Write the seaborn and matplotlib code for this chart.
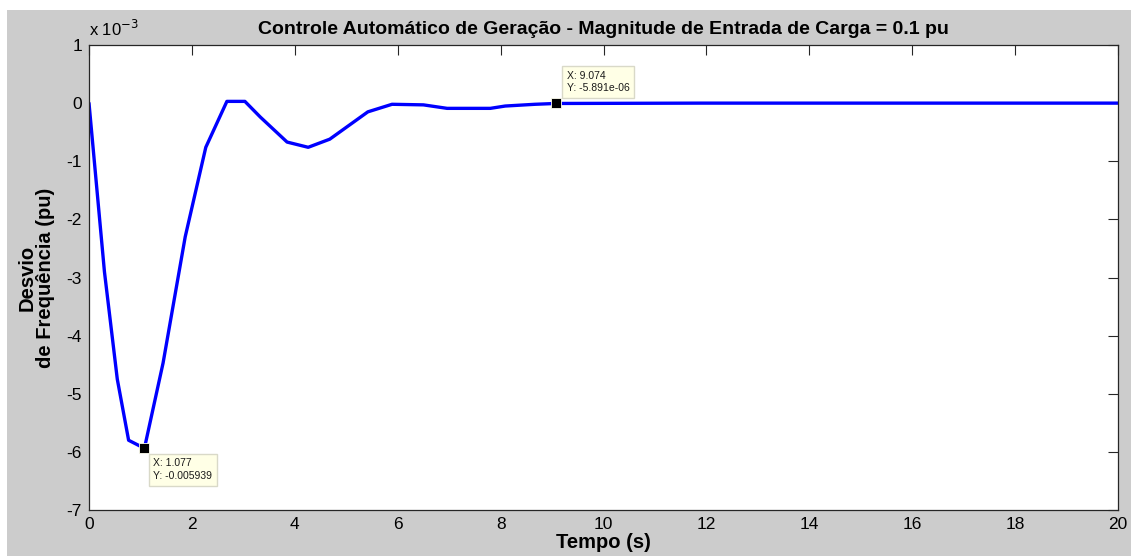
import numpy as np
import pandas as pd
import matplotlib
matplotlib.use("Agg")
import matplotlib.pyplot as plt
import matplotlib.patches as mpatches
from matplotlib.ticker import FuncFormatter
import seaborn as sns

# Frequency deviation response to a 0.1 pu load step
tempo = [0, 0.3, 0.55, 0.77, 1.077, 1.44, 1.87, 2.27, 2.68, 3.03, 3.33, 3.85,
         4.26, 4.68, 5.42, 5.89, 6.5, 6.96, 7.8, 8.09, 8.67, 9.074, 11.9, 20]
desvio = [0, -2.9e-3, -4.75e-3, -5.8e-3, -0.005939, -4.47e-3, -2.3e-3, -0.76e-3,
          0.03e-3, 0.03e-3, -0.24e-3, -0.67e-3, -0.76e-3, -0.62e-3, -0.15e-3,
          -0.02e-3, -0.03e-3, -0.09e-3, -0.09e-3, -0.05e-3, -0.02e-3,
          -5.891e-06, 0.0, 0.0]

# Data tips
tip_x = [1.077, 9.074]
tip_y = [-0.005939, -5.891e-06]
tip_lbl = ["X: 1.077\nY: -0.005939", "X: 9.074\nY: -5.891e-06"]

x_ticks = [0, 2, 4, 6, 8, 10, 12, 14, 16, 18, 20]
y_ticks = [1e-3, 0, -1e-3, -2e-3, -3e-3, -4e-3, -5e-3, -6e-3, -7e-3]

sns.set_style("white")
plt.rcParams["font.family"] = ["Liberation Sans", "DejaVu Sans"]
plt.rcParams["axes.unicode_minus"] = False
plt.rcParams["text.color"] = "black"
plt.rcParams["axes.labelcolor"] = "black"

W, H = 1131, 556
fig = plt.figure(figsize=(W / 100, H / 100), dpi=100, facecolor="white")
fig.patches.append(mpatches.Rectangle((7 / W, 0), 1 - 7 / W, 1 - 10 / H,
                                      transform=fig.transFigure,
                                      facecolor="#cccccc", edgecolor="none",
                                      zorder=-10))

ax = fig.add_axes([89 / W, 1 - 510 / H, (1118 - 89) / W, (510 - 45) / H])
ax.set_facecolor("white")

df = pd.DataFrame({"Tempo": tempo, "Desvio": desvio})
sns.lineplot(data=df, x="Tempo", y="Desvio", ax=ax, color="#0000ff",
             linewidth=2.4, sort=False, estimator=None)

ax.set_xlim(0, 20)
ax.set_ylim(-7e-3, 1e-3)
ax.set_xticks(x_ticks)
ax.set_yticks(y_ticks)
ax.xaxis.set_major_formatter(FuncFormatter(lambda v, p: f"{v:g}"))
ax.yaxis.set_major_formatter(FuncFormatter(lambda v, p: f"{round(v * 1e3):d}"))
ax.tick_params(axis="both", which="major", direction="in", length=7,
               width=0.8, color="#262626", labelsize=12.5, labelcolor="black",
               top=True, right=True, pad=5)
for s in ax.spines.values():
    s.set_color("#262626")
    s.set_linewidth(0.9)
    s.set_visible(True)

ax.text(0, 1.012, "x 10$^{-3}$", transform=ax.transAxes, ha="left",
        va="bottom", fontsize=12)

ax.set_title("Controle Automático de Geração - Magnitude de Entrada de Carga = 0.1 pu",
             fontsize=14, fontweight="bold", pad=8)
ax.set_xlabel("Tempo (s)", fontsize=14.5, fontweight="bold", labelpad=1)
ax.set_ylabel("Desvio\nde Frequência (pu)", fontsize=14.5, fontweight="bold",
              labelpad=8, linespacing=1.0)

ax.plot(tip_x, tip_y, linestyle="none", marker="s", markersize=6.5,
        markerfacecolor="black", markeredgecolor="#fffff0",
        markeredgewidth=0.6, zorder=5)
offsets = [(9, -10), (11, 10)]
valign = ["top", "bottom"]
for x, y, lbl, off, va in zip(tip_x, tip_y, tip_lbl, offsets, valign):
    ax.annotate(lbl, xy=(x, y), xytext=off, textcoords="offset pixels",
                ha="left", va=va, fontsize=7.5, color="#1a1a1a",
                linespacing=1.35,
                bbox=dict(boxstyle="square,pad=0.45", facecolor="#ffffe6",
                          edgecolor="#d9d9c8", linewidth=1), zorder=6)

fig.savefig("out.png", dpi=100, facecolor=fig.get_facecolor())
